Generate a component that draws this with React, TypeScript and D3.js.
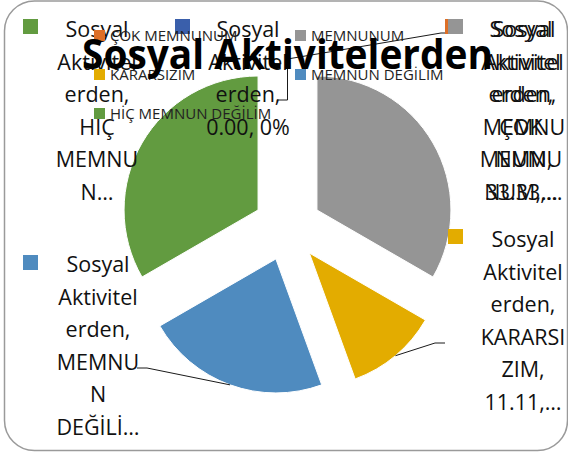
import React from "react";
import * as d3 from "d3";

// ---- data ----
const categories = ["ÇOK MEMNUNUM", "MEMNUNUM", "KARARSIZIM", "MEMNUN DEĞİLİM", "HİÇ MEMNUN DEĞİLİM"];
const values = [0, 33.33, 11.11, 22.22, 33.33];
const titleText = "Sosyal Aktivitelerden";
// wrapped data-label texts (as Excel drew them)
const labelLinesHic = ["Sosyal", "Aktivitel", "erden,", "HİÇ", "MEMNU", "N…"];
const labelLinesZero = ["Sosyal", "Aktivitel", "erden,", "0.00, 0%"];
const labelLinesCok = ["Sosyal", "Aktivitel", "erden,", "ÇOK", "MEMNU", "NUM,…"];
const labelLinesMemnunum = ["Sosyal", "Aktivitel", "erden,", "MEMNU", "NUM,", "33.33,…"];
const labelLinesKararsiz = ["Sosyal", "Aktivitel", "erden,", "KARARSI", "ZIM,", "11.11,…"];
const labelLinesDegil = ["Sosyal", "Aktivitel", "erden,", "MEMNU", "N", "DEĞİLİ…"];

// ---- styles ----
const palette = ["#DD6F27", "#959595", "#E3AC00", "#4F8BBF", "#629B40"];
const darkBlue = "#3A5FAB";
const FONT = "'Open Sans', 'Noto Sans', sans-serif";

const W = 568, H = 454;
const cx = 287.5, cy = 227, R = 134, EXPLODE = 34;
const LINE_H = 32.5;

type Label = { lines: string[]; cx: number; y0: number; key: string; keyX: number; keyY: number };

export default function App() {
  const arcs = d3.pie<number>().sort(null).value((d) => d)(values);
  const arcGen = d3.arc<d3.PieArcDatum<number>>().innerRadius(0).outerRadius(R);
  const mid = (a: d3.PieArcDatum<number>) => (a.startAngle + a.endAngle) / 2;
  const anchor = (a: d3.PieArcDatum<number>) => {
    const m = mid(a);
    return [cx + Math.sin(m) * (R + EXPLODE), cy - Math.cos(m) * (R + EXPLODE)] as [number, number];
  };

  const labels: Label[] = [
    { lines: labelLinesHic, cx: 97, y0: 37, key: palette[4], keyX: 23, keyY: 19 },
    { lines: labelLinesZero, cx: 248, y0: 37, key: darkBlue, keyX: 175, keyY: 19 },
    { lines: labelLinesCok, cx: 521, y0: 37, key: palette[0], keyX: 445, keyY: 19 },
    { lines: labelLinesMemnunum, cx: 524, y0: 37, key: palette[1], keyX: 448, keyY: 19 },
    { lines: labelLinesKararsiz, cx: 523, y0: 247, key: palette[2], keyX: 448, keyY: 229 },
    { lines: labelLinesDegil, cx: 98, y0: 272, key: palette[3], keyX: 23, keyY: 255 },
  ];

  const a0 = anchor(arcs[0]);
  const a2 = anchor(arcs[2]);
  const a3 = anchor(arcs[3]);
  const leaders: [number, number][][] = [
    [a0, [441, 33], [445, 33]],
    [a0, [a0[0], 100], [277, 100]],
    [a2, [435, 343], [445, 343]],
    [a3, [147, 368], [137, 368]],
  ];
  const lineGen = d3.line();

  return (
    <div style={{ position: "absolute", left: 0, top: 0 }}>
      <svg width={W} height={H} style={{ display: "block", fontFamily: FONT }}>
        <rect x={0} y={0} width={W} height={H} fill="#ffffff" />
        <rect x={4.5} y={1} width={563} height={449.5} rx={30} ry={30} fill="#ffffff" stroke="#9a9a9a" strokeWidth={1.5} />
        {arcs.map((a, i) => {
          const m = mid(a);
          const dx = Math.sin(m) * EXPLODE, dy = -Math.cos(m) * EXPLODE;
          return a.endAngle - a.startAngle > 0 ? (
            <path key={i} d={arcGen(a) || ""} transform={`translate(${cx + dx},${cy + dy})`} fill={palette[i]} stroke="#ffffff" strokeWidth={1} />
          ) : null;
        })}
        {leaders.map((pts, i) => (
          <path key={i} d={lineGen(pts) || ""} fill="none" stroke="#1a1a1a" strokeWidth={1} />
        ))}
        {labels.map((l, i) => (
          <g key={i}>
            <rect x={l.keyX} y={l.keyY} width={15} height={15} fill={l.key} />
            {l.lines.map((s, j) => (
              <text key={j} x={l.cx} y={l.y0 + j * LINE_H} textAnchor="middle" fontSize={21.5} fill="#111">
                {s}
              </text>
            ))}
          </g>
        ))}
        {categories.map((c, i) => {
          const col = i % 2, row = Math.floor(i / 2);
          const x = 94 + col * 201, y = 30 + row * 39;
          return (
            <g key={c}>
              <rect x={x} y={y} width={11} height={11} fill={palette[i]} />
              <text x={x + 16} y={y + 10.5} fontSize={15} fill="#222">
                {c}
              </text>
            </g>
          );
        })}
        <text x={287.5} y={69} textAnchor="middle" fontSize={42} fontWeight="bold" fill="#000" textLength={411} lengthAdjust="spacingAndGlyphs">
          {titleText}
        </text>
      </svg>
    </div>
  );
}
